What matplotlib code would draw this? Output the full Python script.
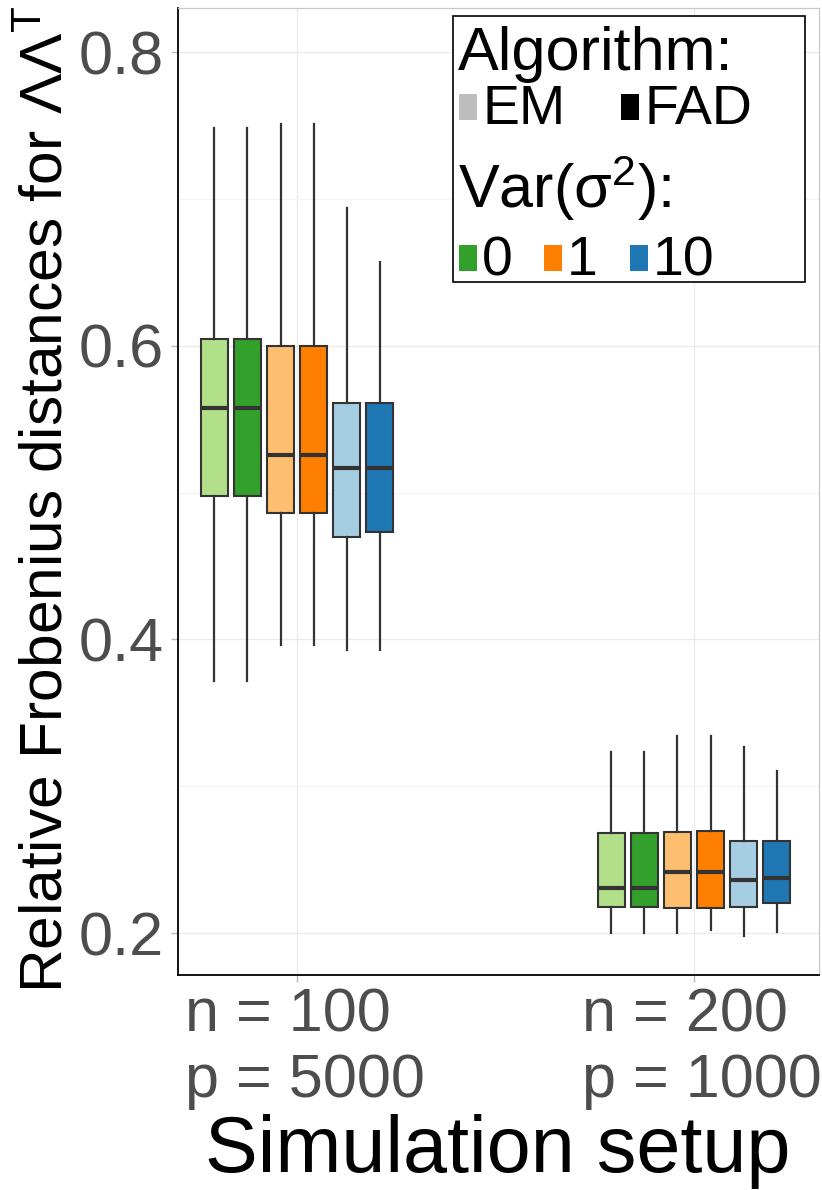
import matplotlib
matplotlib.use('Agg')
import matplotlib.pyplot as plt
from matplotlib.patches import Rectangle
import matplotlib.transforms as mtransforms

plt.rcParams['font.family'] = ['Liberation Sans', 'DejaVu Sans']
plt.rcParams['mathtext.fontset'] = 'custom'
plt.rcParams['mathtext.rm'] = 'Liberation Sans'
plt.rcParams['mathtext.it'] = 'Liberation Sans:italic'
plt.rcParams['mathtext.default'] = 'regular'

setups = ['n = 100\np = 5000', 'n = 200\np = 1000']
series = ['EM 0', 'FAD 0', 'EM 1', 'FAD 1', 'EM 10', 'FAD 10']
box_colors = ['#B2DF8A', '#33A02C', '#FDBF6F', '#FF7F00', '#A6CEE3', '#1F78B4']

# n = 100, p = 5000
low_100 = [0.3715, 0.3715, 0.396, 0.396, 0.3926, 0.3926]
q1_100 = [0.4975, 0.4975, 0.486, 0.486, 0.470, 0.473]
med_100 = [0.5575, 0.5575, 0.5255, 0.5255, 0.517, 0.517]
q3_100 = [0.6045, 0.6045, 0.600, 0.600, 0.561, 0.561]
high_100 = [0.748, 0.748, 0.751, 0.751, 0.694, 0.657]

# n = 200, p = 1000
low_200 = [0.1997, 0.1997, 0.1997, 0.2020, 0.1982, 0.2008]
q1_200 = [0.218, 0.218, 0.2171, 0.2171, 0.2176, 0.2203]
med_200 = [0.2305, 0.2305, 0.2417, 0.2417, 0.2364, 0.2378]
q3_200 = [0.2678, 0.2678, 0.2691, 0.2696, 0.2627, 0.2627]
high_200 = [0.323, 0.323, 0.3345, 0.3345, 0.327, 0.310]

alg_labels = ['EM', 'FAD']
alg_colors = ['#BEBEBE', '#000000']
var_labels = ['0', '1', '10']
var_colors = ['#33A02C', '#FF7F00', '#1F78B4']

W, H = 822, 1190
fig = plt.figure(figsize=(W / 100, H / 100), dpi=100)
ax = fig.add_axes([178 / W, 1 - 975 / H, (819 - 178) / W, (975 - 8) / H])

groups = [(low_100, q1_100, med_100, q3_100, high_100),
          (low_200, q1_200, med_200, q3_200, high_200)]
dodge = 0.0833
for g, (lo, q1, md, q3, hi) in enumerate(groups):
    stats = []
    for i in range(len(series)):
        stats.append(dict(whislo=lo[i], q1=q1[i], med=md[i], q3=q3[i],
                          whishi=hi[i], fliers=[], label=series[i]))
    pos = [g + 1 + (i - 2.5) * dodge for i in range(len(series))]
    bp = ax.bxp(stats, positions=pos, widths=0.067, patch_artist=True,
                showcaps=False, showfliers=False, manage_ticks=False,
                boxprops=dict(edgecolor='#333333', linewidth=1.5),
                whiskerprops=dict(color='#333333', linewidth=1.6),
                medianprops=dict(color='#333333', linewidth=3.0))
    for patch, c in zip(bp['boxes'], box_colors):
        patch.set_facecolor(c)

ax.set_xlim(0.70, 2.315)
ax.set_ylim(0.1714, 0.830)
ax.set_yticks([0.2, 0.4, 0.6, 0.8])
ax.set_yticklabels(['0.2', '0.4', '0.6', '0.8'])
ax.set_yticks([0.3, 0.5, 0.7], minor=True)
ax.set_xticks([1, 2])
ax.set_xticklabels(setups, multialignment='left', linespacing=1.2)
ax.set_axisbelow(True)
ax.grid(which='major', color='#EBEBEB', linewidth=1.0)
ax.grid(which='minor', axis='y', color='#F4F4F4', linewidth=0.8)
ax.tick_params(axis='y', which='major', labelsize=44, labelcolor='#4D4D4D',
               color='#BBBBBB', length=5, width=1, pad=5)
ax.tick_params(axis='x', which='major', labelsize=44, labelcolor='#4D4D4D',
               color='#BBBBBB', length=5, width=1, pad=4)
ax.tick_params(axis='y', which='minor', length=0)
for lab in ax.get_xticklabels():
    lab.set_transform(lab.get_transform() +
                      mtransforms.ScaledTranslation(8 / 100, 0, fig.dpi_scale_trans))

for s in ['left', 'bottom']:
    ax.spines[s].set_color('black')
    ax.spines[s].set_linewidth(1.3)
for s in ['top', 'right']:
    ax.spines[s].set_color('#C8C8C8')
    ax.spines[s].set_linewidth(0.9)

# figure pixel coordinates, origin top-left
pix = mtransforms.Affine2D().scale(1 / W, -1 / H).translate(0, 1) + fig.transFigure

fig.text(498, 1172, 'Simulation setup', transform=pix, fontsize=57,
         ha='center', va='baseline')
fig.text(63, 993, r'Relative Frobenius distances for $\Lambda\Lambda^{T}$', transform=pix,
         fontsize=43.5, rotation=90, rotation_mode='anchor', ha='left', va='baseline')

# legend
fig.add_artist(Rectangle((453, 16), 352, 266, transform=pix, facecolor='white',
                         edgecolor='black', linewidth=1.2))
fig.text(458, 70, 'Algorithm:', transform=pix, fontsize=44, va='baseline')
alg_x = [459, 621]
for x, lab, c in zip(alg_x, alg_labels, alg_colors):
    fig.add_artist(Rectangle((x, 94), 18, 26, transform=pix, facecolor=c, edgecolor='none'))
    fig.text(x + 23, 124, lab, transform=pix, fontsize=40, va='baseline')
fig.text(458, 208, r'Var($\sigma^{2}$):', transform=pix, fontsize=44, va='baseline')
var_x = [459, 544, 630]
for x, lab, c in zip(var_x, var_labels, var_colors):
    fig.add_artist(Rectangle((x, 245), 18, 26, transform=pix, facecolor=c, edgecolor='none'))
    fig.text(x + 23, 275, lab, transform=pix, fontsize=40, va='baseline')

fig.savefig('out.png', dpi=100)
